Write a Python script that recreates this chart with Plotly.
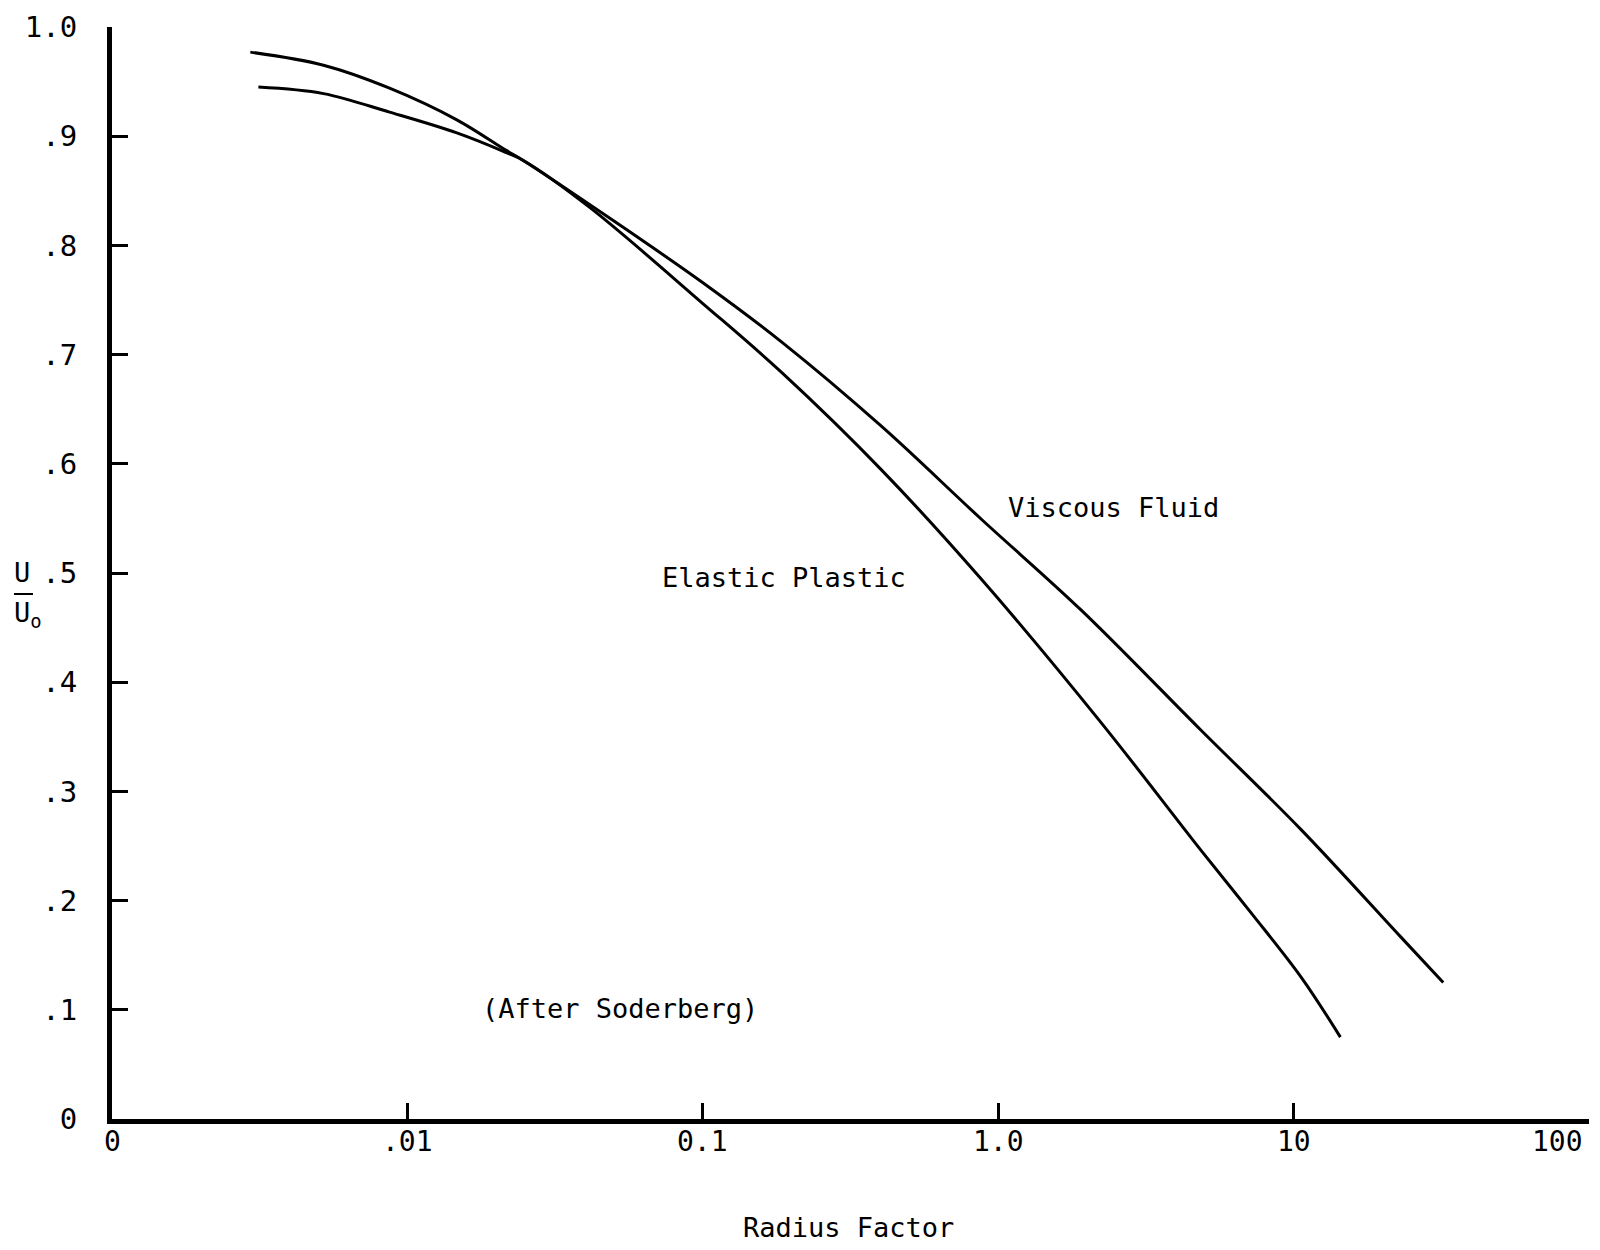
import math
import plotly.graph_objects as go

# Velocity ratio U/Uo versus radius factor (after Soderberg)
viscous_x = [0.00294, 0.0052, 0.0087, 0.0147, 0.0216, 0.0246, 0.0496, 0.0998,
             0.186, 0.404, 0.879, 1.91, 4.86, 10.6, 23.0, 32.1]
viscous_y = [0.977, 0.965, 0.944, 0.915, 0.887, 0.878, 0.823, 0.766,
             0.711, 0.634, 0.549, 0.466, 0.356, 0.265, 0.167, 0.125]

elastic_x = [0.00313, 0.0052, 0.0087, 0.0147, 0.0216, 0.0246, 0.0413, 0.0998,
             0.186, 0.404, 0.879, 2.23, 4.86, 7.17, 10.6, 14.4]
elastic_y = [0.945, 0.939, 0.922, 0.903, 0.885, 0.878, 0.835, 0.747,
             0.683, 0.594, 0.494, 0.363, 0.246, 0.189, 0.130, 0.075]

x_tick_vals = [0.001, 0.01, 0.1, 1.0, 10, 100]
x_tick_text = ["0", ".01", "0.1", "1.0", "10", "100"]
y_tick_vals = [0, 0.1, 0.2, 0.3, 0.4, 0.5, 0.6, 0.7, 0.8, 0.9, 1.0]
y_tick_text = ["0", ".1", ".2", ".3", ".4", ".5", ".6", ".7", ".8", ".9", "1.0"]

FONT = "DejaVu Sans Mono"
W, H = 1600, 1250
L, R, T, B = 112, 11, 27, 131
PW, PH = W - L - R, H - T - B


def px(xp, yp):
    """Page pixel position -> paper coordinates."""
    return (xp - L) / PW, (H - B - yp) / PH


fig = go.Figure()
line_style = dict(color="black", width=3, shape="spline", smoothing=1.0)
fig.add_trace(go.Scatter(x=viscous_x, y=viscous_y, mode="lines",
                         name="Viscous Fluid", line=line_style))
fig.add_trace(go.Scatter(x=elastic_x, y=elastic_y, mode="lines",
                         name="Elastic Plastic", line=line_style))

annotations = []


def label(text, xp, yp, size=27, xanchor="left"):
    ax, ay = px(xp, yp)
    annotations.append(dict(text=text, x=ax, y=ay, xref="paper", yref="paper",
                            xanchor=xanchor, yanchor="middle", showarrow=False,
                            font=dict(family=FONT, size=size, color="black")))


label("Viscous Fluid", 1006, 507)
label("Elastic Plastic", 660, 577)
label("(After Soderberg)", 480, 1008)
label("Radius Factor", 848, 1227, xanchor="center")

# y-axis title drawn as a fraction U / Uo
label("U", 22, 572, size=27, xanchor="center")
label("U<sub>o</sub>", 28, 614, size=27, xanchor="center")

# x tick labels placed along the log axis
for v, t in zip(x_tick_vals, x_tick_text):
    last = v == x_tick_vals[-1]
    annotations.append(dict(text=t, x=math.log10(v), y=0, xref="x", yref="paper",
                            xanchor="right" if last else "center", yanchor="top",
                            xshift=-4 if last else 0, yshift=-4, showarrow=False,
                            font=dict(family=FONT, size=28, color="black")))

bx0, by0 = px(14, 594)
bx1, _ = px(33, 594)

fig.update_layout(
    width=W, height=H,
    margin=dict(l=L, r=R, t=T, b=B, autoexpand=False),
    paper_bgcolor="white", plot_bgcolor="white",
    showlegend=False,
    annotations=annotations,
    shapes=[dict(type="line", xref="paper", yref="paper", x0=bx0, x1=bx1,
                 y0=by0, y1=by0, line=dict(color="black", width=2))],
    xaxis=dict(type="log", range=[-3, 2], tickvals=x_tick_vals,
               showticklabels=False, ticks="inside", ticklen=16, tickwidth=3,
               tickcolor="black", showline=True, linecolor="black", linewidth=5,
               showgrid=False, zeroline=False, automargin=False),
    yaxis=dict(range=[0, 1.0], tickvals=y_tick_vals, ticktext=y_tick_text,
               ticks="inside", ticklen=16, tickwidth=3, tickcolor="black",
               showline=True, linecolor="black", linewidth=5,
               showgrid=False, zeroline=False, automargin=False,
               ticklabelstandoff=24,
               tickfont=dict(family=FONT, size=29, color="black")),
)

fig.write_html("out.html")
